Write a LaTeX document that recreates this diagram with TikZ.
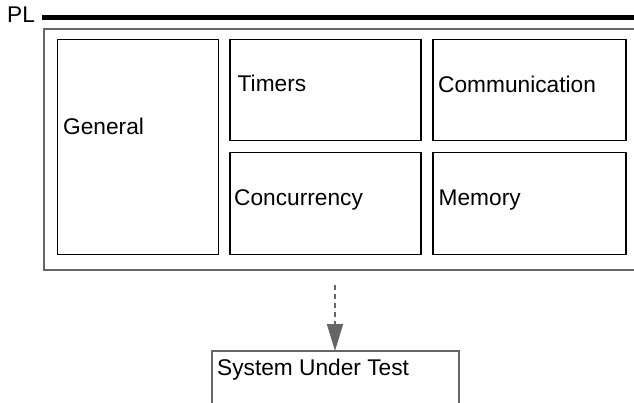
\documentclass[tikz,border=0pt]{standalone}
\usepackage{fontspec}
\setmainfont{Liberation Sans}
\usetikzlibrary{arrows.meta}
\definecolor{edgegray}{HTML}{666666}
\tikzset{
  box/.style={draw=black, line width=1.5pt, rectangle, inner sep=0pt},
  lbl/.style={anchor=base west, inner sep=0pt, font=\fontsize{22.7}{26}\selectfont},
}
\begin{document}
\begin{tikzpicture}[x=1pt,y=-1pt]
\useasboundingbox (0,0) rectangle (634,403);
% PL label and bar
\node[lbl] (pl) at (7,22.5) {PL};
\coordinate (barS) at (42,17.5);
\coordinate (barE) at (640,17.5);
\draw[line width=5pt] (barS) -- (barE);
% outer gray frame (open to the right)
\draw[edgegray, line width=2pt] (650,29) -- (44,29) -- (44,270) -- (650,270);
% inner boxes
\node[box, minimum width=161pt, minimum height=215pt, anchor=north west] (gen) at (56.5,39) {};
\node[box, minimum width=191pt, minimum height=101pt, anchor=north west] (tim) at (229,39) {};
\node[box, minimum width=193pt, minimum height=101pt, anchor=north west] (com) at (432,39) {};
\node[box, minimum width=191pt, minimum height=102pt, anchor=north west] (con) at (229,152) {};
\node[box, minimum width=193pt, minimum height=102pt, anchor=north west] (mem) at (432,152) {};
\node[lbl] at (63,135) {General};
\node[lbl] at (237.5,92) {Timers};
\node[lbl] at (438,92.5) {Communication};
\node[lbl] at (234,205.5) {Concurrency};
\node[lbl] at (438.5,205.5) {Memory};
% system under test (open at bottom)
\coordinate (sutTop) at (335,351);
\draw[edgegray, line width=1.5pt] (212,410) -- (212,351) -- (459,351) -- (459,410);
\node[lbl] (sut) at (217,375) {System Under Test};
% dashed arrow
\coordinate (arrS) at (335,285);
\draw[edgegray, line width=1.5pt, dash pattern=on 5pt off 4pt, -{Triangle[length=27pt,width=16pt]}] (arrS) -- (sutTop);
\end{tikzpicture}
\end{document}
